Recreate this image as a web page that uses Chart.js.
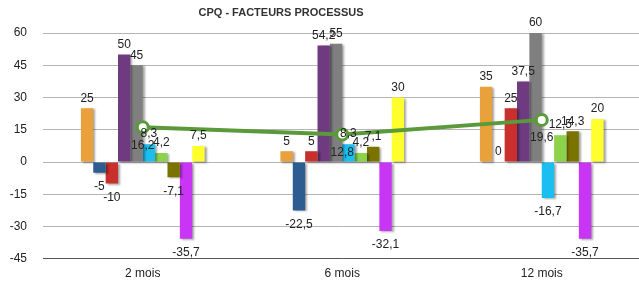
<!DOCTYPE html>
<html>
<head>
<meta charset="utf-8">
<script src="https://cdn.jsdelivr.net/npm/chart.js@4"></script>
<style>
    html, body { margin: 0; padding: 0; background: #fff; overflow: hidden; }
    #wrap { width: 650px; height: 282px; position: relative; }
</style>
</head>
<body>
<div id="wrap"><canvas id="chart"></canvas></div>
<script>
// Categories and series values
const categories = ['2 mois', '6 mois', '12 mois'];

const serieOrange  = [25, 5, 35];
const serieBleu    = [-5, -22.5, 0];
const serieRouge   = [-10, 5, 25];
const serieViolet  = [50, 54.2, 37.5];
const serieGris    = [45, 55, 60];
const serieCyan    = [8.3, 8.3, -16.7];
const serieVert    = [4.2, 4.2, 12.5];
const serieOlive   = [-7.1, 7.1, 14.3];
const serieMagenta = [-35.7, -32.1, -35.7];
const serieJaune   = [7.5, 30, 20];

const moyenne = [16.2, 12.8, 19.6];

const yTicks = [-45, -30, -15, 0, 15, 30, 45, 60];

const FONT = '"Liberation Sans", Arial, Helvetica, sans-serif';

const fmt = v => String(v).replace('.', ',');

const barSeries = [
    { name: 'Série 1', data: serieOrange, color: '#E9A23B' },
    { name: 'Série 2', data: serieBleu, color: '#2D5C91' },
    { name: 'Série 3', data: serieRouge, color: '#C9302C' },
    { name: 'Série 4', data: serieViolet, color: '#6E3A80' },
    { name: 'Série 5', data: serieGris, color: '#7F7F7F' },
    { name: 'Série 6', data: serieCyan, color: '#1BBEF0' },
    { name: 'Série 7', data: serieVert, color: '#8CD24B' },
    { name: 'Série 8', data: serieOlive, color: '#7B7300' },
    { name: 'Série 9', data: serieMagenta, color: '#C935F5' },
    { name: 'Série 10', data: serieJaune, color: '#FFFF2E' }
];

// Shadow under the bars
const barShadow = {
    id: 'barShadow',
    beforeDatasetDraw(chart, args) {
        if (args.meta.type !== 'bar') return;
        const ctx = chart.ctx;
        ctx.save();
        ctx.shadowColor = 'rgba(0,0,0,0.35)';
        ctx.shadowOffsetX = 2;
        ctx.shadowOffsetY = 1;
        ctx.shadowBlur = 2;
    },
    afterDatasetDraw(chart, args) {
        if (args.meta.type !== 'bar') return;
        chart.ctx.restore();
    }
};

// Value labels + title
const valueLabels = {
    id: 'valueLabels',
    afterDatasetsDraw(chart) {
        const ctx = chart.ctx;
        ctx.save();
        ctx.font = '12px ' + FONT;
        ctx.fillStyle = '#222';
        ctx.textAlign = 'center';
        ctx.textBaseline = 'middle';
        chart.data.datasets.forEach((ds, i) => {
            const meta = chart.getDatasetMeta(i);
            meta.data.forEach((el, j) => {
                const v = ds.data[j];
                if (meta.type === 'bar') {
                    const y = v >= 0 ? el.y - 10 : el.y + 14;
                    ctx.fillText(fmt(v), el.x, y);
                } else {
                    ctx.fillText(fmt(v), el.x, el.y + 18);
                }
            });
        });

        // title
        ctx.font = 'bold 11px ' + FONT;
        ctx.fillStyle = '#333';
        ctx.fillText('CPQ - FACTEURS PROCESSUS', 281, 13);
        ctx.restore();
    }
};

const datasets = [
    {
        type: 'line',
        label: 'Moyenne',
        data: moyenne,
        borderColor: '#5A9A3A',
        borderWidth: 4,
        pointBackgroundColor: '#fff',
        pointBorderColor: '#5A9A3A',
        pointBorderWidth: 3,
        pointRadius: 5.5,
        tension: 0,
        order: 0
    },
    ...barSeries.map(s => ({
        type: 'bar',
        label: s.name,
        data: s.data,
        backgroundColor: s.color,
        borderWidth: 0,
        order: 1
    }))
];

new Chart(document.getElementById('chart'), {
    data: { labels: categories, datasets },
    options: {
        responsive: true,
        maintainAspectRatio: false,
        animation: false,
        datasets: {
            bar: { categoryPercentage: 0.62, barPercentage: 1 }
        },
        layout: { padding: { top: 33, right: 1, left: 0, bottom: 0 } },
        plugins: {
            legend: { display: false },
            title: { display: false },
            tooltip: { enabled: false }
        },
        scales: {
            x: {
                grid: { display: false, drawTicks: false },
                border: { display: false },
                ticks: {
                    color: '#222',
                    font: { family: FONT, size: 12 },
                    padding: 8
                },
                afterFit: s => { s.height = 22; }
            },
            y: {
                min: -45,
                max: 60,
                afterBuildTicks: s => { s.ticks = yTicks.map(v => ({ value: v })); },
                grid: {
                    color: ctx => ctx.tick && ctx.tick.value === -45 ? '#555' : '#B4B4B4',
                    lineWidth: 1,
                    drawTicks: false
                },
                border: { display: false },
                ticks: {
                    color: '#222',
                    font: { family: FONT, size: 12 },
                    padding: 16
                },
                afterFit: s => { s.width = 43; }
            }
        }
    },
    plugins: [barShadow, valueLabels]
});
</script>
</body>
</html>
